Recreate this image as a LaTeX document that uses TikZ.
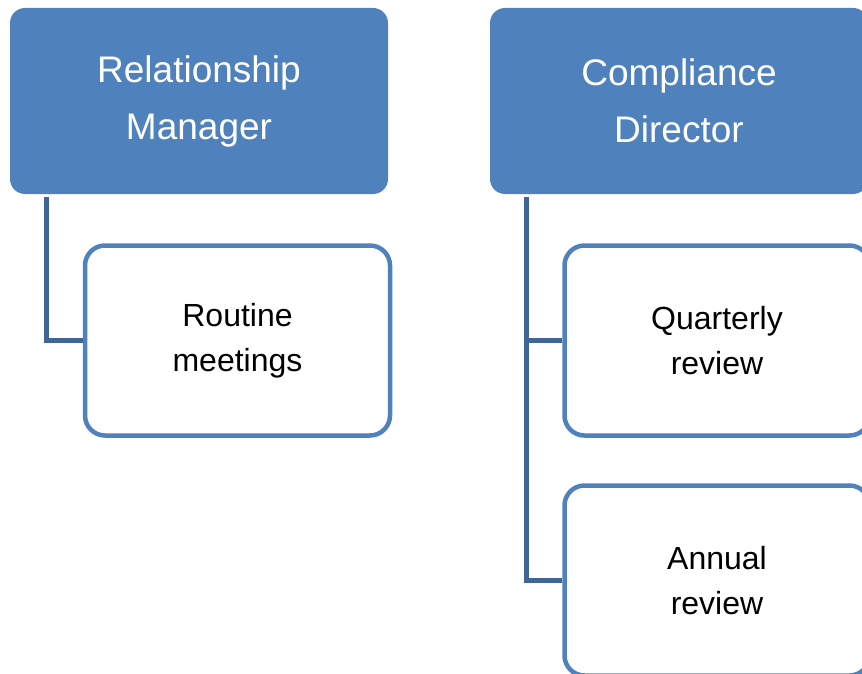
\documentclass[tikz,border=0pt]{standalone}
\usepackage{fontspec}
\setmainfont{Liberation Sans}
\definecolor{boxblue}{HTML}{4F81BD}
\definecolor{linkblue}{HTML}{3E6797}

\begin{document}
\begin{tikzpicture}[x=1pt,y=-1pt]
  \tikzset{head/.style = {shape=rectangle,fill=boxblue,rounded corners=15pt,minimum width=378pt,minimum height=186pt,inner sep=0pt,text=white,align=center,font=\fontsize{37}{57}\selectfont}}
  \tikzset{item/.style = {shape=rectangle,draw=boxblue,line width=4.5pt,fill=white,rounded corners=20pt,minimum width=305pt,minimum height=190pt,inner sep=0pt,align=center,font=\fontsize{32}{45}\selectfont}}
  \tikzset{link/.style = {draw=linkblue,line width=5pt}}
	\useasboundingbox (0,0) rectangle (862,674);
	\clip (0,0) rectangle (862,674);

	\node[head](rm) at (199,101) {Relationship\\Manager};
	\node[head](cd) at (679,101) {Compliance\\Director};

	\node[item](rt) at (237.5,340.5) {Routine\\meetings};
	\node[item](qr) at (717,340.5) {Quarterly\\review};
	\node[item](ar) at (717,580.5) {Annual\\review};

	\coordinate (rmfoot) at (46,197);
	\coordinate (cdfoot) at (526,197);

    \foreach \from/\to in {rmfoot/rt,cdfoot/qr,cdfoot/ar}
    \draw[link](\from) |- (\to.west);
\end{tikzpicture}
\end{document}
